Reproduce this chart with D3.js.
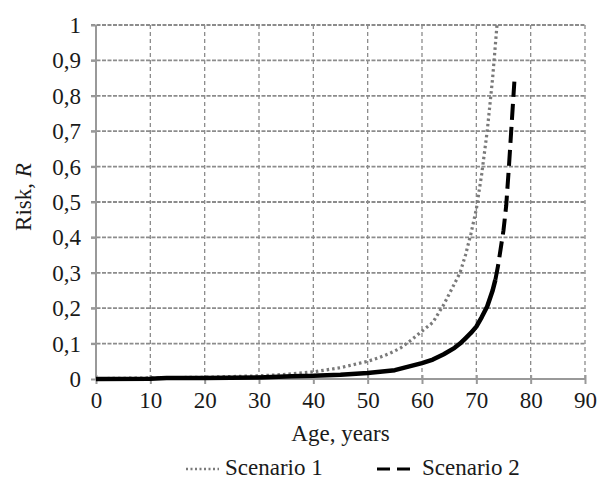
<!DOCTYPE html>
<html><head><meta charset="utf-8">
<script src="https://cdn.jsdelivr.net/npm/d3@7"></script>
<style>body{margin:0;background:#fff}svg{display:block}</style>
</head><body><svg id="c" width="602" height="481"></svg>
<script>
const xTicks = [0,10,20,30,40,50,60,70,80,90];
const yTicks = [0,0.1,0.2,0.3,0.4,0.5,0.6,0.7,0.8,0.9,1];
const yTickLabels = ["0","0,1","0,2","0,3","0,4","0,5","0,6","0,7","0,8","0,9","1"];
const ages1 = [0,5,10,15,20,25,30,35,40,45,50,52,54,56,58,60,62,64,66,67,68,69,70,71,72,73,73.8];
const risk1 = [0.001,0.002,0.003,0.004,0.005,0.007,0.009,0.013,0.02,0.032,0.05,0.06,0.072,0.087,0.11,0.135,0.16,0.21,0.27,0.30,0.35,0.41,0.48,0.58,0.70,0.85,1.0];
const ages2 = [0,10,13,20,30,36,40,45,50,55,60,62,64,66,67,68,69,70,71,72,73,73.5,74,75,75.5,76,76.5,77];
const risk2 = [0.0,0.001,0.003,0.003,0.004,0.008,0.009,0.012,0.017,0.025,0.045,0.055,0.07,0.088,0.10,0.115,0.13,0.148,0.175,0.205,0.25,0.28,0.32,0.42,0.49,0.60,0.72,0.84];
const seriesNames = ["Scenario 1","Scenario 2"];

const FONT = "'Liberation Serif', 'Times New Roman', 'DejaVu Serif', serif";
const svg = d3.select("#c").attr("font-family", FONT);
const x = d3.scaleLinear().domain([0,90]).range([96,585]);
const y = d3.scaleLinear().domain([0,1]).range([379,25]);
const gridCol = "#8c8c8c";
const txtCol = "#1a1a1a";

// horizontal grid
svg.append("g").selectAll("line").data(yTicks.slice(1)).join("line")
  .attr("x1", 91).attr("x2", x(90)).attr("y1", d=>y(d)).attr("y2", d=>y(d))
  .attr("stroke", gridCol).attr("stroke-width", 1.8).attr("stroke-dasharray","4,1.5");
// vertical grid
svg.append("g").selectAll("line").data(xTicks.slice(1)).join("line")
  .attr("x1", d=>x(d)).attr("x2", d=>x(d)).attr("y1", y(1)).attr("y2", y(0))
  .attr("stroke", gridCol).attr("stroke-width", 1.3).attr("stroke-dasharray","4,3");

// axes
const xAxis = d3.axisBottom(x).tickValues(xTicks).tickSize(5).tickFormat(d3.format("d"));
const gx = svg.append("g").attr("transform",`translate(0,${y(0)})`).call(xAxis).attr("font-family", FONT);
gx.select(".domain").attr("stroke","#999").attr("stroke-width",2).attr("d",`M${x(0)},0H${x(90)}`);
gx.selectAll(".tick line").attr("stroke","#999").attr("stroke-width",2).attr("y1",-4);
gx.selectAll(".tick text").attr("font-size",23).attr("dy","0").attr("y",29).attr("fill",txtCol);

const yAxis = d3.axisLeft(y).tickValues(yTicks).tickSize(5).tickFormat((d,i)=>yTickLabels[i]);
const gy = svg.append("g").attr("transform",`translate(${x(0)},0)`).call(yAxis).attr("font-family", FONT);
gy.select(".domain").attr("stroke","#999").attr("stroke-width",2).attr("d",`M0,${y(0)}V${y(1)}`);
gy.selectAll(".tick line").attr("stroke","#999").attr("stroke-width",2);
gy.selectAll(".tick text").attr("font-size",23).attr("x",-15).attr("dy","0.33em").attr("fill",txtCol);

const line = d3.line().x(d=>x(d[0])).y(d=>y(d[1]));
const s1 = ages1.map((a,i)=>[a,risk1[i]]);
const s2 = ages2.map((a,i)=>[a,risk2[i]]);

svg.append("path").datum(s1).attr("d",line).attr("fill","none")
  .attr("stroke","#7a7a7a").attr("stroke-width",3.2).attr("stroke-dasharray","2.5,3");

const s2solid = s2.filter(d=>d[0]<=73.5);
const s2dash = s2.filter(d=>d[0]>=73.5);
svg.append("path").datum(s2solid).attr("d",line).attr("fill","none")
  .attr("stroke","#000").attr("stroke-width",4.5).attr("stroke-linejoin","round");
svg.append("path").datum(s2dash).attr("d",line).attr("fill","none")
  .attr("stroke","#000").attr("stroke-width",4).attr("stroke-dasharray","16,7");

// axis titles
svg.append("text").attr("x",(x(0)+x(90))/2).attr("y",441).attr("text-anchor","middle")
  .attr("font-size",23).attr("fill",txtCol).text("Age, years");
const yt = svg.append("text").attr("transform","translate(31,197) rotate(-90)")
  .attr("text-anchor","middle").attr("font-size",23).attr("fill",txtCol);
yt.append("tspan").text("Risk, ");
yt.append("tspan").attr("font-style","italic").text("R");

// legend
const lg = svg.append("g");
lg.append("line").attr("x1",186).attr("x2",219).attr("y1",469).attr("y2",469)
  .attr("stroke","#7a7a7a").attr("stroke-width",2.5).attr("stroke-dasharray","2,2.5");
lg.append("text").attr("x",225).attr("y",475).attr("font-size",23).attr("fill",txtCol).text(seriesNames[0]);
lg.append("line").attr("x1",377).attr("x2",411).attr("y1",469).attr("y2",469)
  .attr("stroke","#000").attr("stroke-width",3).attr("stroke-dasharray","13,7");
lg.append("text").attr("x",422).attr("y",475).attr("font-size",23).attr("fill",txtCol).text(seriesNames[1]);
</script></body></html>
